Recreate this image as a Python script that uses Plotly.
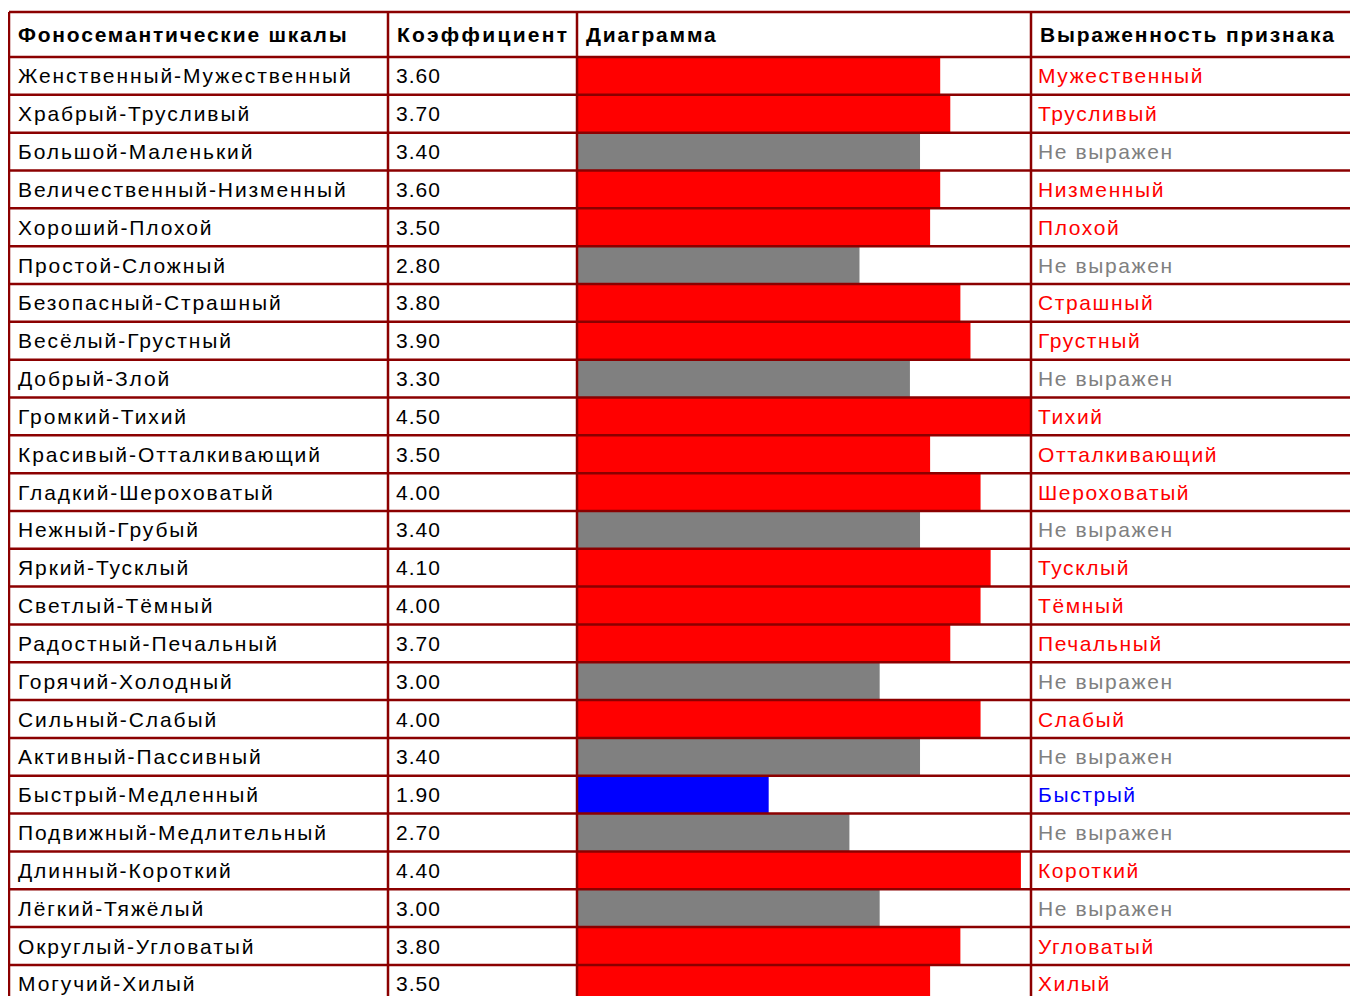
import plotly.graph_objects as go

scales = [
    "Женственный-Мужественный", "Храбрый-Трусливый", "Большой-Маленький",
    "Величественный-Низменный", "Хороший-Плохой", "Простой-Сложный",
    "Безопасный-Страшный", "Весёлый-Грустный", "Добрый-Злой",
    "Громкий-Тихий", "Красивый-Отталкивающий", "Гладкий-Шероховатый",
    "Нежный-Грубый", "Яркий-Тусклый", "Светлый-Тёмный",
    "Радостный-Печальный", "Горячий-Холодный", "Сильный-Слабый",
    "Активный-Пассивный", "Быстрый-Медленный", "Подвижный-Медлительный",
    "Длинный-Короткий", "Лёгкий-Тяжёлый", "Округлый-Угловатый",
    "Могучий-Хилый",
]
coefficients = [3.60, 3.70, 3.40, 3.60, 3.50, 2.80, 3.80, 3.90, 3.30, 4.50,
                3.50, 4.00, 3.40, 4.10, 4.00, 3.70, 3.00, 4.00, 3.40, 1.90,
                2.70, 4.40, 3.00, 3.80, 3.50]
expression = [
    "Мужественный", "Трусливый", "Не выражен", "Низменный", "Плохой",
    "Не выражен", "Страшный", "Грустный", "Не выражен", "Тихий",
    "Отталкивающий", "Шероховатый", "Не выражен", "Тусклый", "Тёмный",
    "Печальный", "Не выражен", "Слабый", "Не выражен", "Быстрый",
    "Не выражен", "Короткий", "Не выражен", "Угловатый", "Хилый",
]
headers = ["Фоносемантические шкалы", "Коэффициент", "Диаграмма", "Выраженность признака"]
header_spacing = [1.8, 2.3, 1.8, 1.8]

W, H = 1358, 996
OFF = 8  # page body margin
FONT = "Liberation Sans"
FS = 21
LINE = "#8b0000"


def color_for(v):
    if v >= 3.5:
        return "#ff0000"
    if v <= 2.5:
        return "#0000ff"
    return "#808080"


def spaced(t, ls):
    return f'<span style="letter-spacing:{ls}px">{t}</span>'


colors = [color_for(v) for v in coefficients]
rows = list(range(1, len(scales) + 1))

# column borders (page px) converted to figure px
col_x = [p - OFF for p in (9, 388, 577, 1031)] + [W + 5]
top_px = 12 - OFF
first_row_px = 57 - OFF
row_h = 37.83


def px2row(p):
    return (p - first_row_px) / row_h + 0.5


fig = go.Figure()
fig.add_trace(go.Bar(
    x=coefficients, y=rows, orientation="h", width=1.0,
    marker=dict(color=colors, line=dict(width=0)),
    hoverinfo="x+y", showlegend=False,
))

fig.update_layout(
    width=W, height=H, margin=dict(l=0, r=0, t=0, b=0),
    paper_bgcolor="white", plot_bgcolor="white",
    xaxis=dict(domain=[col_x[2] / W, col_x[3] / W], range=[0, 4.5],
               visible=False, fixedrange=True),
    yaxis=dict(domain=[0, 1], range=[px2row(H), px2row(0)],
               visible=False, fixedrange=True),
    font=dict(family=FONT, size=FS, color="black"),
)

ann = []
pad = 7
header_y = px2row((top_px + first_row_px) / 2)
for i, h in enumerate(headers):
    ann.append(dict(x=(col_x[i] + pad) / W, y=header_y, xref="paper", yref="y",
                    text="<b>" + spaced(h, header_spacing[i]) + "</b>", showarrow=False,
                    xanchor="left", yanchor="middle",
                    font=dict(family=FONT, size=FS, color="black")))
for r, s, c, e, col in zip(rows, scales, coefficients, expression, colors):
    ann.append(dict(x=(col_x[0] + pad) / W, y=r, xref="paper", yref="y",
                    text=spaced(s, 1.9), showarrow=False, xanchor="left", yanchor="middle",
                    font=dict(family=FONT, size=FS, color="black")))
    ann.append(dict(x=(col_x[1] + pad - 1) / W, y=r, xref="paper", yref="y",
                    text=spaced(f"{c:.2f}", 1.0), showarrow=False, xanchor="left",
                    yanchor="middle",
                    font=dict(family=FONT, size=FS, color="black")))
    ann.append(dict(x=(col_x[3] + pad - 2) / W, y=r, xref="paper", yref="y",
                    text=spaced(e, 1.6), showarrow=False, xanchor="left", yanchor="middle",
                    font=dict(family=FONT, size=FS, color=col)))
fig.update_layout(annotations=ann)

shapes = []
shapes.append(dict(type="line", xref="paper", yref="y", x0=col_x[0] / W, x1=1,
                   y0=px2row(top_px), y1=px2row(top_px),
                   line=dict(color=LINE, width=2.5), layer="above"))
for k in range(0, len(rows) + 1):
    yy = k + 0.5
    shapes.append(dict(type="line", xref="paper", yref="y", x0=col_x[0] / W, x1=1,
                       y0=yy, y1=yy, line=dict(color=LINE, width=2.5), layer="above"))
for cx in col_x[:4]:
    shapes.append(dict(type="line", xref="paper", yref="y", x0=cx / W, x1=cx / W,
                       y0=px2row(top_px), y1=px2row(H + 5),
                       line=dict(color=LINE, width=2.5), layer="above"))
fig.update_layout(shapes=shapes)

fig.write_html("out.html")
